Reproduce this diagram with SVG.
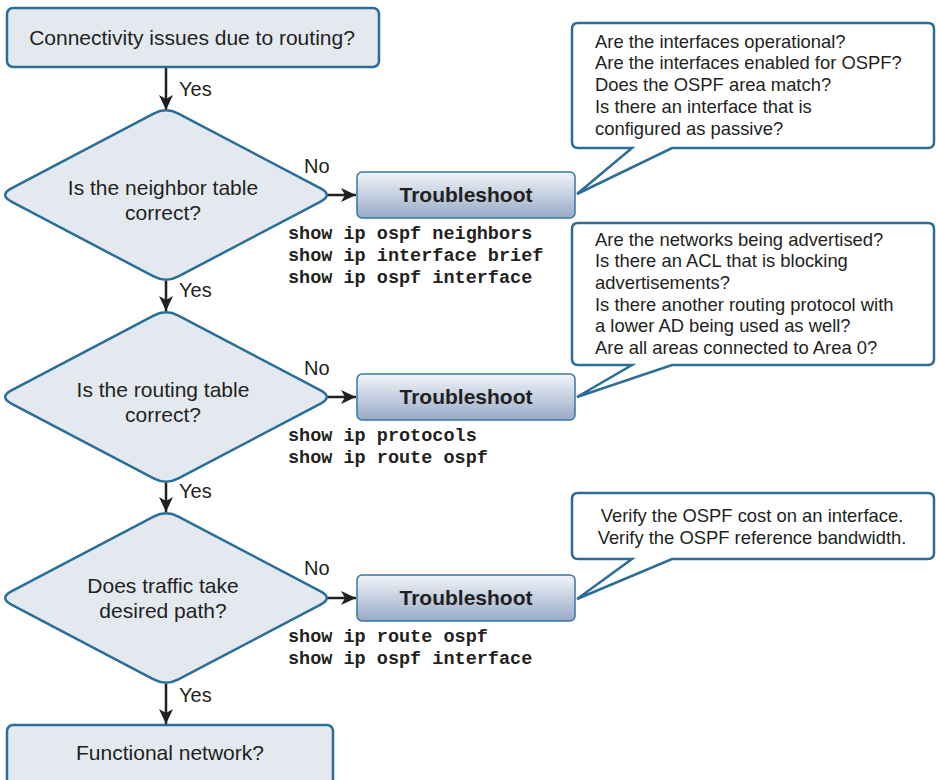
<svg xmlns="http://www.w3.org/2000/svg" xmlns:xlink="http://www.w3.org/1999/xlink" width="936" height="780" viewBox="0 0 936 780">
<style>
.node{fill:#e4e9f0;stroke:#2a6d98;stroke-width:2.5}
.ts{fill:url(#tsg);stroke:#3a76a0;stroke-width:1.5}
.call{fill:#ffffff;stroke:#2a6d98;stroke-width:2.5;stroke-linejoin:miter}
.t{font-family:"Liberation Sans",Arial,sans-serif;fill:#231f20}
.big{font-size:21px}
.lbl{font-size:20px}
.co{font-size:18.4px}
.tsl{font-size:21px;font-weight:bold;text-anchor:middle}
.cmd{font-family:"Liberation Mono","Courier New",monospace;font-weight:bold;font-size:18.5px;fill:#231f20}
.mid{text-anchor:middle}
.conn{stroke:#231f20;stroke-width:2.5;fill:none;marker-end:url(#ah)}
</style>
<defs>
<linearGradient id="tsg" x1="0" y1="0" x2="0" y2="1">
<stop offset="0" stop-color="#f2f5f9"/>
<stop offset="1" stop-color="#98aac7"/>
</linearGradient>
<marker id="ah" markerWidth="16" markerHeight="14" refX="15" refY="7" orient="auto" markerUnits="userSpaceOnUse">
<path d="M0,0 L15,7 L0,14 L4,7 Z" fill="#231f20"/>
</marker>
<path id="dia" d="M -154.62,-6.53 L -12.38,-81.47 Q 0,-88 12.38,-81.47 L 154.62,-6.53 Q 167,0 154.62,6.53 L 12.38,81.47 Q 0,88 -12.38,81.47 L -154.62,6.53 Q -167,0 -154.62,-6.53 Z"/>
</defs>
<rect width="936" height="780" fill="#ffffff"/>

<g id="connectors">
<line class="conn" x1="166" y1="68" x2="166" y2="110"/>
<line class="conn" x1="166" y1="281" x2="166" y2="311"/>
<line class="conn" x1="166" y1="483" x2="166" y2="512"/>
<line class="conn" x1="166" y1="684" x2="166" y2="724"/>
<line class="conn" x1="323" y1="195" x2="356" y2="195"/>
<line class="conn" x1="323" y1="397" x2="356" y2="397"/>
<line class="conn" x1="323" y1="598" x2="356" y2="598"/>
<text class="t lbl" x="179" y="96">Yes</text>
<text class="t lbl" x="179" y="297">Yes</text>
<text class="t lbl" x="179" y="498">Yes</text>
<text class="t lbl" x="179" y="702">Yes</text>
<text class="t lbl" x="304" y="173">No</text>
<text class="t lbl" x="304" y="375">No</text>
<text class="t lbl" x="304" y="575">No</text>
</g>

<g id="start">
<rect class="node" x="7" y="8" width="372" height="59" rx="6"/>
<text class="t big mid" x="192" y="45">Connectivity issues due to routing?</text>
</g>

<g id="d1">
<use href="#dia" xlink:href="#dia" class="node" transform="translate(166,195)"/>
<text class="t big mid" x="163" y="195">Is the neighbor table</text>
<text class="t big mid" x="163" y="220">correct?</text>
</g>

<g id="d2">
<use href="#dia" xlink:href="#dia" class="node" transform="translate(166,397)"/>
<text class="t big mid" x="163" y="397">Is the routing table</text>
<text class="t big mid" x="163" y="422">correct?</text>
</g>

<g id="d3">
<use href="#dia" xlink:href="#dia" class="node" transform="translate(166,598)"/>
<text class="t big mid" x="163" y="593">Does traffic take</text>
<text class="t big mid" x="163" y="618">desired path?</text>
</g>

<g id="end">
<rect class="node" x="7" y="725" width="326" height="70" rx="6"/>
<text class="t big mid" x="170" y="760">Functional network?</text>
</g>

<g id="ts1">
<rect class="ts" x="357" y="172" width="218" height="46" rx="5"/>
<text class="t tsl" x="466" y="202">Troubleshoot</text>
<text class="cmd" x="288" y="239">show ip ospf neighbors</text>
<text class="cmd" x="288" y="261">show ip interface brief</text>
<text class="cmd" x="288" y="283">show ip ospf interface</text>
</g>

<g id="ts2">
<rect class="ts" x="357" y="374" width="218" height="46" rx="5"/>
<text class="t tsl" x="466" y="404">Troubleshoot</text>
<text class="cmd" x="288" y="441">show ip protocols</text>
<text class="cmd" x="288" y="463">show ip route ospf</text>
</g>

<g id="ts3">
<rect class="ts" x="357" y="575" width="218" height="46" rx="5"/>
<text class="t tsl" x="466" y="605">Troubleshoot</text>
<text class="cmd" x="288" y="642">show ip route ospf</text>
<text class="cmd" x="288" y="664">show ip ospf interface</text>
</g>

<g id="c1">
<path class="call" d="M 578,23 H 928 Q 934,23 934,29 V 142 Q 934,148 928,148 H 672 L 577,194 L 632,148 H 578 Q 572,148 572,142 V 29 Q 572,23 578,23 Z"/>
<text class="t co" x="595" y="48">Are the interfaces operational?</text>
<text class="t co" x="595" y="69">Are the interfaces enabled for OSPF?</text>
<text class="t co" x="595" y="91">Does the OSPF area match?</text>
<text class="t co" x="595" y="113">Is there an interface that is</text>
<text class="t co" x="595" y="135">configured as passive?</text>
</g>

<g id="c2">
<path class="call" d="M 578,223 H 928 Q 934,223 934,229 V 359 Q 934,365 928,365 H 672 L 577,397 L 632,365 H 578 Q 572,365 572,359 V 229 Q 572,223 578,223 Z"/>
<text class="t co" x="595" y="246">Are the networks being advertised?</text>
<text class="t co" x="595" y="267">Is there an ACL that is blocking</text>
<text class="t co" x="595" y="289">advertisements?</text>
<text class="t co" x="595" y="311">Is there another routing protocol with</text>
<text class="t co" x="595" y="332">a lower AD being used as well?</text>
<text class="t co" x="595" y="354">Are all areas connected to Area 0?</text>
</g>

<g id="c3">
<path class="call" d="M 578,493 H 928 Q 934,493 934,499 V 553 Q 934,559 928,559 H 672 L 577,599 L 632,559 H 578 Q 572,559 572,553 V 499 Q 572,493 578,493 Z"/>
<text class="t co mid" x="752" y="522">Verify the OSPF cost on an interface.</text>
<text class="t co mid" x="752" y="544">Verify the OSPF reference bandwidth.</text>
</g>
</svg>
